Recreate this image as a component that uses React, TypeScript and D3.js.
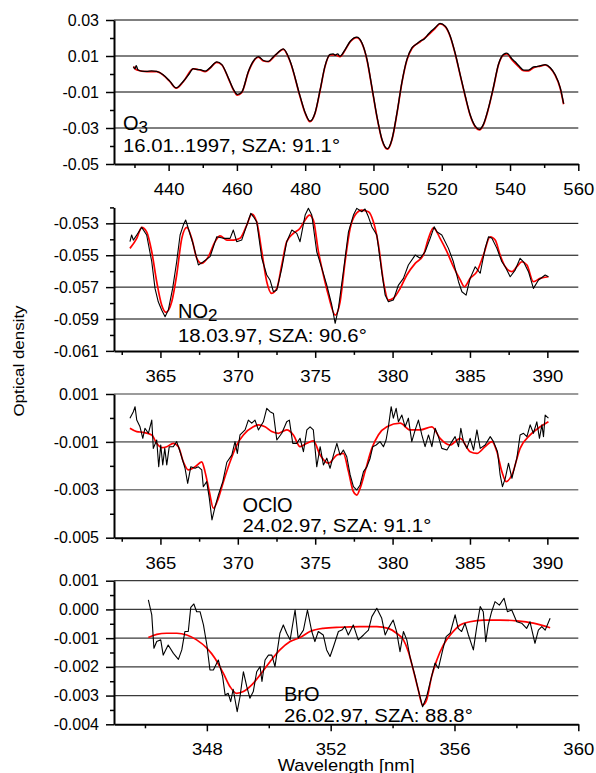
import React, { useRef, useEffect } from "react";
import * as d3 from "d3";

type Pt = [number, number];

// ---- O3 (430-556 nm) ----
const o3Fit: Pt[] = [
  [429.7, 0.0041], [430.7, 0.0022], [433.6, 0.0013], [436.5, 0.0013], [438.4, -0.0006], [440.4, -0.0043],
  [442.2, -0.0079], [444.3, -0.0043], [447.2, 0.0028], [449.2, 0.0022], [450.7, 0.0013], [452.1, 0.0032],
  [454.1, 0.0065], [455.6, 0.005], [457.5, -0.0024], [459.0, -0.0089], [460.1, -0.0117], [461.4, -0.0104],
  [463.4, 0.0013], [464.8, 0.0068], [466.3, 0.0093], [467.8, 0.0072], [469.2, 0.0068], [470.7, 0.0093],
  [473.6, 0.0137], [475.6, 0.0068], [478.5, -0.0126], [480.0, -0.0218], [481.4, -0.0265], [482.9, -0.0218],
  [484.4, -0.0089], [485.8, 0.0041], [487.3, 0.0106], [488.8, 0.0106], [490.2, 0.0096], [491.7, 0.0133],
  [493.2, 0.0179], [495.1, 0.0202], [496.6, 0.0171], [498.1, 0.0078], [499.5, -0.0071], [501.0, -0.0237],
  [502.5, -0.0367], [504.1, -0.0418], [505.4, -0.0367], [506.9, -0.0218], [508.3, -0.0052], [509.8, 0.0078],
  [511.3, 0.0143], [513.7, 0.0179], [516.1, 0.0217], [518.1, 0.0254], [519.5, 0.0278], [521.0, 0.0263],
  [522.5, 0.0207], [523.9, 0.0115], [525.4, -0.0006], [526.9, -0.0126], [528.3, -0.0228], [529.8, -0.0293],
  [531.0, -0.0311], [532.2, -0.0283], [533.7, -0.0191], [535.2, -0.0071], [536.6, 0.005], [538.1, 0.0106],
  [539.1, 0.0111], [540.6, 0.0078], [542.5, 0.0041], [544.0, 0.0018], [545.4, 0.0017], [546.9, 0.0035],
  [548.9, 0.0044], [550.3, 0.005], [551.8, 0.0032], [553.2, -0.0006], [554.7, -0.0079], [555.7, -0.0168],
];
const o3Meas: Pt[] = [
  [429.7, 0.0041], [430.1, 0.0028], [430.5, 0.0046], [431.0, 0.0024], [432.2, 0.0016], [433.6, 0.0015],
  [435.0, 0.0017], [436.5, 0.0014], [438.4, -0.0004], [440.4, -0.0041], [442.2, -0.0077], [444.3, -0.004],
  [446.0, 0.0], [447.2, 0.003], [448.3, 0.0025], [449.2, 0.0024], [450.7, 0.0016], [452.1, 0.0034],
  [454.1, 0.0067], [455.6, 0.0052], [457.5, -0.0022], [459.0, -0.0086], [460.1, -0.0113], [461.4, -0.0101],
  [463.4, 0.0016], [464.8, 0.0071], [466.3, 0.0096], [467.8, 0.0075], [469.2, 0.007], [470.7, 0.0096],
  [472.0, 0.0118], [473.6, 0.014], [475.6, 0.0071], [478.5, -0.0123], [480.0, -0.0215], [481.4, -0.0262],
  [482.9, -0.0215], [484.4, -0.0086], [485.8, 0.0044], [487.3, 0.0109], [488.2, 0.0112], [488.8, 0.0104],
  [489.5, 0.0112], [490.2, 0.0099], [491.7, 0.0136], [493.2, 0.0182], [495.1, 0.0205], [496.6, 0.0174],
  [498.1, 0.0081], [499.5, -0.0068], [501.0, -0.0234], [502.5, -0.0364], [504.1, -0.0415], [505.4, -0.0364],
  [506.9, -0.0215], [508.3, -0.0049], [509.8, 0.0081], [511.3, 0.0146], [512.5, 0.0165], [513.7, 0.0183],
  [514.9, 0.0195], [516.1, 0.0222], [517.0, 0.024], [518.1, 0.0258], [519.5, 0.0281], [521.0, 0.0266],
  [522.5, 0.021], [523.9, 0.0118], [525.4, -0.0003], [526.9, -0.0123], [528.3, -0.0225], [529.8, -0.029],
  [531.0, -0.0308], [532.2, -0.028], [533.7, -0.0188], [535.2, -0.0068], [536.6, 0.0053], [538.1, 0.0109],
  [539.1, 0.0116], [540.6, 0.0083], [541.5, 0.0068], [542.5, 0.0047], [544.0, 0.0022], [545.4, 0.0021],
  [546.9, 0.0039], [547.8, 0.0041], [548.9, 0.0046], [550.3, 0.0052], [551.8, 0.0035], [553.2, -0.0003],
  [554.7, -0.0076], [555.7, -0.0165],
];

// ---- NO2 (363-390 nm) ----
const no2Fit: Pt[] = [
  [363.03, -0.05457], [363.47, -0.05394], [363.79, -0.05325], [364.11, -0.05353], [364.44, -0.05478],
  [364.76, -0.05666], [365.08, -0.05812], [365.36, -0.05858], [365.73, -0.05792], [366.05, -0.05624],
  [366.38, -0.05394], [366.7, -0.05325], [367.02, -0.05394], [367.35, -0.05519], [367.67, -0.05551],
  [368.1, -0.05509], [368.53, -0.05415], [368.85, -0.05378], [369.29, -0.05405], [369.71, -0.05405],
  [370.14, -0.05394], [370.58, -0.05311], [370.9, -0.05242], [371.22, -0.0529], [371.55, -0.05478],
  [371.87, -0.05666], [372.19, -0.05739], [372.52, -0.05708], [372.84, -0.05561], [373.16, -0.05415],
  [373.59, -0.05363], [374.02, -0.05331], [374.35, -0.05279], [374.62, -0.05248], [374.88, -0.05279],
  [375.21, -0.05478], [375.53, -0.05624], [375.85, -0.0575], [376.29, -0.05875], [376.61, -0.05792],
  [376.93, -0.05541], [377.26, -0.05331], [377.58, -0.05248], [378.01, -0.05217], [378.44, -0.05227],
  [378.76, -0.0529], [379.09, -0.05436], [379.41, -0.05666], [379.73, -0.05781], [380.05, -0.0577],
  [380.49, -0.05708], [380.92, -0.05624], [381.46, -0.05551], [381.99, -0.05499], [382.32, -0.05394],
  [382.64, -0.05328], [383.07, -0.05394], [383.51, -0.05478], [383.93, -0.05572], [384.37, -0.05655],
  [384.64, -0.05697], [385.01, -0.05645], [385.45, -0.05603], [385.87, -0.05499], [386.31, -0.05384],
  [386.63, -0.05405], [386.95, -0.05499], [387.28, -0.05572], [387.71, -0.05603], [388.03, -0.05572],
  [388.35, -0.05541], [388.68, -0.05561], [389.1, -0.05666], [389.54, -0.05645], [390.07, -0.05635],
];
const no2Meas: Pt[] = [
  [363.03, -0.05415], [363.14, -0.05373], [363.25, -0.05405], [363.47, -0.05373], [363.79, -0.05325],
  [364.11, -0.05373], [364.44, -0.05541], [364.65, -0.05708], [364.86, -0.05792], [365.08, -0.05844],
  [365.3, -0.05886], [365.51, -0.05844], [365.79, -0.05708], [366.05, -0.05541], [366.27, -0.05373],
  [366.48, -0.05311], [366.63, -0.05279], [366.8, -0.05331], [367.13, -0.05436], [367.45, -0.05561],
  [367.77, -0.05541], [368.21, -0.05509], [368.64, -0.05384], [369.07, -0.05394], [369.5, -0.05394],
  [369.71, -0.05342], [369.93, -0.05415], [370.25, -0.05405], [370.58, -0.05311], [370.84, -0.05237],
  [371.01, -0.05259], [371.22, -0.0529], [371.55, -0.05519], [371.87, -0.05624], [372.08, -0.05655],
  [372.3, -0.05729], [372.52, -0.05718], [372.84, -0.05582], [373.16, -0.05415], [373.49, -0.05342],
  [373.81, -0.05363], [374.02, -0.05415], [374.35, -0.05248], [374.56, -0.05206], [374.78, -0.05248],
  [375.1, -0.05478], [375.43, -0.05582], [375.75, -0.05687], [376.07, -0.05812], [376.29, -0.05927],
  [376.5, -0.05833], [376.82, -0.05603], [377.15, -0.05353], [377.47, -0.05248], [377.69, -0.05206],
  [378.01, -0.05227], [378.22, -0.0521], [378.44, -0.05259], [378.66, -0.05321], [378.98, -0.05373],
  [379.3, -0.05603], [379.52, -0.0575], [379.73, -0.05792], [380.05, -0.05781], [380.38, -0.05687],
  [380.7, -0.05645], [381.02, -0.05561], [381.46, -0.05499], [381.78, -0.05519], [382.1, -0.05478],
  [382.43, -0.05394], [382.69, -0.05321], [382.86, -0.05353], [383.18, -0.05373], [383.61, -0.05457],
  [383.93, -0.05541], [384.26, -0.05666], [384.48, -0.05729], [384.75, -0.0575], [385.01, -0.05645],
  [385.34, -0.05572], [385.66, -0.05613], [385.98, -0.05457], [386.2, -0.05384], [386.42, -0.05394],
  [386.74, -0.05457], [387.06, -0.05541], [387.28, -0.05572], [387.6, -0.05635], [387.92, -0.05593],
  [388.24, -0.05519], [388.46, -0.05541], [388.78, -0.05603], [389.1, -0.05708], [389.43, -0.05655],
  [389.86, -0.05624], [390.07, -0.05635],
];

// ---- OClO (363-390 nm) ----
const ocloFit: Pt[] = [
  [363.03, -0.00043], [363.47, -0.00057], [363.89, -0.0006], [364.44, -0.00071], [364.76, -0.00106],
  [365.08, -0.00124], [365.41, -0.0012], [365.83, -0.00106], [366.16, -0.0012], [366.48, -0.00183],
  [366.8, -0.00217], [367.24, -0.00204], [367.67, -0.00183], [367.88, -0.00224], [368.16, -0.00308],
  [368.42, -0.00377], [368.74, -0.00336], [369.07, -0.00266], [369.5, -0.00183], [369.93, -0.00113],
  [370.36, -0.00071], [371.0, -0.00037], [371.33, -0.00029], [371.76, -0.00037], [372.19, -0.00057],
  [372.62, -0.00064], [373.16, -0.0005], [373.59, -0.00071], [374.02, -0.0012], [374.46, -0.00106],
  [374.88, -0.00096], [375.32, -0.00155], [375.85, -0.00189], [376.4, -0.00155], [376.82, -0.00148],
  [377.15, -0.00224], [377.47, -0.00308], [377.69, -0.00322], [377.9, -0.00294], [378.22, -0.00224],
  [378.66, -0.00127], [379.08, -0.00071], [379.63, -0.00037], [380.49, -0.00022], [381.13, -0.0005],
  [381.78, -0.0005], [382.54, -0.00037], [383.07, -0.00085], [383.72, -0.00113], [384.37, -0.00085],
  [385.01, -0.00141], [385.45, -0.00148], [385.98, -0.0012], [386.42, -0.00099], [386.74, -0.00141],
  [387.06, -0.00224], [387.34, -0.00266], [387.71, -0.00238], [388.24, -0.00127], [388.89, -0.00071],
  [389.54, -0.00037], [390.07, -0.00016],
];
const ocloMeas: Pt[] = [
  [363.03, -0.00001], [363.25, 0.00026], [363.36, 0.00047], [363.47, -0.00009], [363.68, -0.00037],
  [363.86, -0.00085], [364.0, -0.00043], [364.22, -0.00064], [364.44, -0.00009], [364.54, -0.00127],
  [364.76, -0.00092], [364.89, -0.00204], [365.02, -0.00113], [365.15, -0.00196], [365.28, -0.00127],
  [365.41, -0.00196], [365.57, -0.0012], [365.83, -0.0012], [366.05, -0.00099], [366.27, -0.00141],
  [366.59, -0.0021], [366.76, -0.00273], [366.96, -0.00204], [367.24, -0.0021], [367.45, -0.00204],
  [367.67, -0.00217], [367.77, -0.00287], [367.99, -0.00266], [368.16, -0.00336], [368.33, -0.00426],
  [368.53, -0.00371], [368.74, -0.00322], [369.03, -0.00266], [369.29, -0.00185], [369.61, -0.00155],
  [369.82, -0.00099], [369.97, -0.00148], [370.14, -0.00071], [370.47, -0.0005], [370.68, -0.00009],
  [370.9, -0.00022], [371.11, -0.00009], [371.33, -0.0005], [371.65, -0.00016], [371.87, 0.0004],
  [372.08, 0.00026], [372.3, 0.00019], [372.52, -0.00092], [372.84, -0.00064], [373.16, -0.00016],
  [373.33, -0.00009], [373.55, -0.00106], [373.81, -0.00106], [374.02, -0.00085], [374.24, -0.00141],
  [374.46, -0.0005], [374.67, -0.00037], [374.88, -0.0005], [375.1, -0.00204], [375.32, -0.0012],
  [375.53, -0.00196], [375.75, -0.00168], [375.96, -0.0021], [376.18, -0.00155], [376.4, -0.00106],
  [376.61, -0.00155], [376.82, -0.00134], [377.04, -0.00162], [377.26, -0.00238], [377.47, -0.00287],
  [377.69, -0.00301], [377.9, -0.0028], [378.12, -0.00224], [378.34, -0.00204], [378.55, -0.00168],
  [378.72, -0.0012], [378.94, -0.00113], [379.19, -0.00099], [379.41, -0.0012], [379.58, -0.00092],
  [379.73, -0.00037], [379.91, 0.00047], [380.05, -0.00001], [380.23, 0.0004], [380.38, -0.00016],
  [380.6, 0.00012], [380.81, -0.00037], [381.02, -0.00001], [381.24, -0.00099], [381.46, -0.0005],
  [381.67, -0.00009], [381.89, -0.00071], [382.1, -0.0012], [382.32, -0.00071], [382.54, -0.0012],
  [382.75, -0.00043], [382.96, -0.00078], [383.18, -0.00127], [383.51, -0.00134], [383.83, -0.00099],
  [384.04, -0.00078], [384.26, -0.0012], [384.41, -0.00043], [384.58, -0.00099], [384.8, -0.00127],
  [385.01, -0.00085], [385.23, -0.00134], [385.45, -0.0005], [385.66, -0.00127], [385.98, -0.00113],
  [386.31, -0.00078], [386.52, -0.00099], [386.78, -0.00141], [386.95, -0.00238], [387.1, -0.00287],
  [387.28, -0.00252], [387.49, -0.00189], [387.71, -0.00252], [387.92, -0.00196], [388.03, -0.00168],
  [388.24, -0.00071], [388.46, -0.00064], [388.68, -0.00078], [388.89, -0.00029], [389.1, -0.00064],
  [389.32, -0.00016], [389.49, -0.00085], [389.65, -0.00029], [389.75, -0.00078], [389.86, 0.00012],
  [390.07, -0.00001],
];

// ---- BrO (346-359 nm) ----
const broFit: Pt[] = [
  [346.11, -0.00098], [346.38, -0.00087], [346.7, -0.00083], [347.03, -0.00083], [347.35, -0.00089],
  [347.67, -0.00106], [348.0, -0.00135], [348.26, -0.0017], [348.53, -0.00222], [348.75, -0.00269],
  [348.96, -0.00292], [349.18, -0.00286], [349.45, -0.00263], [349.72, -0.00228], [350.04, -0.00182],
  [350.36, -0.00141], [350.69, -0.00112], [351.01, -0.00098], [351.33, -0.00077], [351.76, -0.00066],
  [352.3, -0.00062], [352.95, -0.0006], [353.49, -0.0006], [353.86, -0.00066], [354.13, -0.00083],
  [354.35, -0.00106], [354.51, -0.00147], [354.67, -0.00211], [354.83, -0.0028], [354.97, -0.00333],
  [355.1, -0.00315], [355.26, -0.00234], [355.43, -0.00176], [355.64, -0.00124], [355.91, -0.00083],
  [356.18, -0.00054], [356.5, -0.00043], [356.93, -0.00037], [357.47, -0.00037], [358.01, -0.0004],
  [358.55, -0.00048], [359.09, -0.00064],
];
const broMeas: Pt[] = [
  [346.11, 0.00033], [346.22, -0.00019], [346.29, -0.00135], [346.38, -0.00112], [346.51, -0.00106],
  [346.59, -0.00159], [346.75, -0.00124], [346.92, -0.00153], [347.08, -0.00174], [347.19, -0.00141],
  [347.29, -0.00077], [347.4, -0.00077], [347.48, 0.00007], [347.58, 0.00019], [347.67, -0.00008],
  [347.78, -0.00008], [347.89, -0.00054], [348.0, -0.00124], [348.1, -0.00211], [348.21, -0.00211],
  [348.37, -0.00176], [348.51, -0.00234], [348.59, -0.00298], [348.69, -0.00292], [348.77, -0.00321],
  [348.85, -0.00278], [348.98, -0.00356], [349.07, -0.00304], [349.18, -0.00217], [349.29, -0.00269],
  [349.39, -0.00309], [349.5, -0.00286], [349.61, -0.00217], [349.72, -0.00199], [349.78, -0.00251],
  [349.88, -0.00176], [349.99, -0.00159], [350.1, -0.00159], [350.2, -0.00199], [350.36, -0.00083],
  [350.47, -0.00054], [350.58, -0.00083], [350.69, -0.00106], [350.85, -0.00002], [350.95, -0.001],
  [351.12, -0.00072], [351.25, -0.00002], [351.39, -0.00077], [351.49, -0.00112], [351.6, -0.00077],
  [351.76, -0.00089], [351.87, -0.00141], [351.98, -0.00164], [352.09, -0.0013], [352.25, -0.00077],
  [352.36, -0.00072], [352.46, -0.0006], [352.57, -0.00089], [352.73, -0.00054], [352.89, -0.00106],
  [353.06, -0.00089], [353.22, -0.00072], [353.33, -0.00025], [353.49, 0.00004], [353.65, -0.00031],
  [353.76, -0.00089], [353.86, -0.00066], [354.02, -0.00037], [354.13, -0.00077], [354.24, -0.00147],
  [354.35, -0.00077], [354.46, -0.00106], [354.56, -0.00164], [354.73, -0.00234], [354.83, -0.0028],
  [354.97, -0.00339], [355.1, -0.00304], [355.26, -0.00234], [355.37, -0.00187], [355.48, -0.00205],
  [355.62, -0.00141], [355.73, -0.00095], [355.86, -0.00083], [356.02, -0.00019], [356.12, -0.00066],
  [356.23, -0.00077], [356.34, -0.00048], [356.45, -0.00089], [356.61, -0.00141], [356.72, -0.0006],
  [356.83, 0.0001], [356.93, -0.00008], [357.01, -0.00112], [357.09, -0.00054], [357.2, -0.00008],
  [357.31, 0.00027], [357.45, 0.00015], [357.6, 0.00039], [357.71, -0.00008], [357.85, -0.00002],
  [358.01, -0.00043], [358.17, -0.00048], [358.33, -0.00066], [358.44, -0.00043], [358.6, -0.00118],
  [358.71, -0.00072], [358.82, -0.0006], [358.93, -0.00072], [359.09, -0.00031],
];

// ---- ticks ----
const o3XMajor = [440, 460, 480, 500, 520, 540, 560];
const o3XMinor = [430, 450, 470, 490, 510, 530, 550];
const o3YMajor = [0.03, 0.01, -0.01, -0.03, -0.05];
const o3YMinor = [0.02, 0, -0.02, -0.04];
const o3Grid = [0.03, 0.01, -0.01, -0.03];

const uvXMajor = [365, 370, 375, 380, 385, 390];
const uvXMinor = [362.5, 367.5, 372.5, 377.5, 382.5, 387.5];

const no2YMajor = [-0.053, -0.055, -0.057, -0.059, -0.061];
const no2YMinor = [-0.052, -0.054, -0.056, -0.058, -0.06];
const no2Grid = [-0.053, -0.055, -0.057, -0.059];

const ocloYMajor = [0.001, -0.001, -0.003, -0.005];
const ocloYMinor = [0, -0.002, -0.004];
const ocloGrid = [0.001, -0.001, -0.003];

const broXMajor = [348, 352, 356, 360];
const broXMinor = [346, 350, 354, 358];
const broYMajor = [0.001, 0, -0.001, -0.002, -0.003, -0.004];
const broYMinor = [0.0005, -0.0005, -0.0015, -0.0025, -0.0035];
const broGrid = [0.001, 0, -0.001, -0.002, -0.003];

const FONT = "'Liberation Sans', Arial, Helvetica, sans-serif";

const panels = [
  {
    meas: o3Meas, fit: o3Fit, smoothMeas: true,
    xDomain: [424, 560], yDomain: [-0.05, 0.03], top: 20, bottom: 164,
    xMajor: o3XMajor, xMinor: o3XMinor, yMajor: o3YMajor, yMinor: o3YMinor, grid: o3Grid,
    yFmt: ".2f", gridColor: "#000", gridWidth: 1,
    species: ["O", "3"], date: "16.01..1997, SZA: 91.1°", labX: 123, specY: 130, dateY: 151.5,
  },
  {
    meas: no2Meas, fit: no2Fit, smoothMeas: false,
    xDomain: [362, 392], yDomain: [-0.061, -0.052], top: 207.4, bottom: 350.9,
    xMajor: uvXMajor, xMinor: uvXMinor, yMajor: no2YMajor, yMinor: no2YMinor, grid: no2Grid,
    yFmt: ".3f", gridColor: "#000", gridWidth: 1,
    species: ["NO", "2"], date: "18.03.97, SZA: 90.6°", labX: 178, specY: 318, dateY: 341.5,
  },
  {
    meas: ocloMeas, fit: ocloFit, smoothMeas: false,
    xDomain: [362, 392], yDomain: [-0.005, 0.001], top: 394, bottom: 537.7,
    xMajor: uvXMajor, xMinor: uvXMinor, yMajor: ocloYMajor, yMinor: ocloYMinor, grid: ocloGrid,
    yFmt: ".3f", gridColor: "#7a7a7a", gridWidth: 1.6,
    species: ["OClO", ""], date: "24.02.97, SZA: 91.1°", labX: 242.5, specY: 511.5, dateY: 531.5,
  },
  {
    meas: broMeas, fit: broFit, smoothMeas: false,
    xDomain: [345, 360], yDomain: [-0.004, 0.001], top: 580.7, bottom: 724.3,
    xMajor: broXMajor, xMinor: broXMinor, yMajor: broYMajor, yMinor: broYMinor, grid: broGrid,
    yFmt: ".3f", gridColor: "#3a3a3a", gridWidth: 1.2,
    species: ["BrO", ""], date: "26.02.97, SZA: 88.8°", labX: 284, specY: 700.5, dateY: 721.5,
  },
];

const LEFT = 114;
const RIGHT = 578.3;

export default function App() {
  const ref = useRef<SVGSVGElement>(null);

  useEffect(() => {
    const svg = d3.select(ref.current);
    svg.selectAll("*").remove();

    panels.forEach((p) => {
      const x = d3.scaleLinear().domain(p.xDomain).range([LEFT, RIGHT]);
      const y = d3.scaleLinear().domain(p.yDomain).range([p.bottom, p.top]);
      const g = svg.append("g");

      g.selectAll(".grid")
        .data(p.grid)
        .enter()
        .append("line")
        .attr("x1", LEFT)
        .attr("x2", RIGHT)
        .attr("y1", (d) => y(d))
        .attr("y2", (d) => y(d))
        .attr("stroke", p.gridColor)
        .attr("stroke-width", p.gridWidth);

      const fitLine = d3
        .line<Pt>()
        .x((d) => x(d[0]))
        .y((d) => y(d[1]))
        .curve(d3.curveMonotoneX);
      const measLine = d3
        .line<Pt>()
        .x((d) => x(d[0]))
        .y((d) => y(d[1]))
        .curve(p.smoothMeas ? d3.curveMonotoneX : d3.curveLinear);

      g.append("path")
        .datum(p.fit)
        .attr("d", fitLine)
        .attr("fill", "none")
        .attr("stroke", "#ff0000")
        .attr("stroke-width", 1.7);
      g.append("path")
        .datum(p.meas)
        .attr("d", measLine)
        .attr("fill", "none")
        .attr("stroke", "#000")
        .attr("stroke-width", p.smoothMeas ? 1.3 : 1.1)
        .attr("stroke-linejoin", "round");

      const fmt = d3.format(p.yFmt);
      const yAxis = g
        .append("g")
        .attr("transform", `translate(${LEFT},0)`)
        .call(
          d3
            .axisLeft(y)
            .tickValues(p.yMajor)
            .tickFormat((d) => fmt(d as number).replace("−", "-"))
            .tickSize(8)
            .tickSizeOuter(0)
            .tickPadding(7)
        );
      yAxis.attr("font-family", FONT).attr("font-size", 16);
      yAxis.select(".domain").attr("stroke-width", 2);
      yAxis.selectAll(".tick line").attr("stroke-width", 1.5);
      yAxis.selectAll("text").attr("fill", "#000");

      g.append("g")
        .attr("transform", `translate(${LEFT},0)`)
        .call(d3.axisLeft(y).tickValues(p.yMinor).tickFormat(() => "").tickSize(4).tickSizeOuter(0))
        .call((a) => a.select(".domain").remove())
        .selectAll(".tick line")
        .attr("stroke-width", 1.5);

      const xAxis = g
        .append("g")
        .attr("transform", `translate(0,${p.bottom})`)
        .call(
          d3
            .axisBottom(x)
            .tickValues(p.xMajor)
            .tickFormat(d3.format("d"))
            .tickSize(7)
            .tickSizeOuter(0)
        );
      xAxis.attr("font-family", FONT).attr("font-size", 17);
      xAxis.select(".domain").attr("stroke-width", 2);
      xAxis.selectAll(".tick line").attr("stroke-width", 1.5);
      xAxis
        .selectAll("text")
        .attr("fill", "#000")
        .attr("y", 31)
        .attr("dy", null)
        .attr("transform", "scale(1.09,1)");

      g.append("g")
        .attr("transform", `translate(0,${p.bottom})`)
        .call(d3.axisBottom(x).tickValues(p.xMinor).tickFormat(() => "").tickSize(4).tickSizeOuter(0))
        .call((a) => a.select(".domain").remove())
        .selectAll(".tick line")
        .attr("stroke-width", 1.5);

      const spec = g
        .append("text")
        .attr("x", p.labX)
        .attr("y", p.specY)
        .attr("font-family", FONT)
        .attr("font-size", 20)
        .attr("fill", "#000");
      spec.append("tspan").text(p.species[0]);
      if (p.species[1]) {
        spec.append("tspan").attr("dy", 3).attr("font-size", 17).text(p.species[1]);
      }

      g.append("text")
        .attr("transform", `translate(${p.labX},${p.dateY}) scale(1.07,1)`)
        .attr("font-family", FONT)
        .attr("font-size", 19)
        .attr("fill", "#000")
        .text(p.date);
    });

    svg
      .append("text")
      .attr("transform", `translate(${(LEFT + RIGHT) / 2},771) scale(1.08,1)`)
      .attr("text-anchor", "middle")
      .attr("font-family", FONT)
      .attr("font-size", 17)
      .attr("fill", "#000")
      .text("Wavelength [nm]");

    svg
      .append("text")
      .attr("transform", "translate(24,361) rotate(-90) scale(1.13,1)")
      .attr("text-anchor", "middle")
      .attr("font-family", FONT)
      .attr("font-size", 15)
      .attr("fill", "#000")
      .text("Optical density");
  }, []);

  return (
    <svg
      ref={ref}
      width={596}
      height={773}
      style={{ position: "absolute", left: 0, top: 0, background: "#fff", display: "block" }}
    />
  );
}
